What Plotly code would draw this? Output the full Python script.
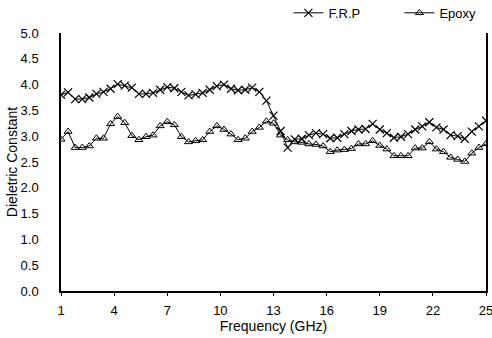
import plotly.graph_objects as go

freq = [round(1 + 0.4 * i, 1) for i in range(61)]

frp = [3.80, 3.85, 3.72, 3.72, 3.75, 3.82, 3.86, 3.92, 4.01, 3.98,
       3.94, 3.82, 3.82, 3.84, 3.90, 3.95, 3.93, 3.86, 3.79, 3.81,
       3.84, 3.90, 3.97, 4.00, 3.92, 3.89, 3.90, 3.94, 3.86, 3.69,
       3.40, 3.10, 2.78, 2.94, 2.95, 3.02, 3.06, 3.04, 2.96, 2.97,
       3.04, 3.10, 3.13, 3.14, 3.24, 3.13, 3.06, 2.97, 2.99, 3.04,
       3.13, 3.19, 3.27, 3.17, 3.13, 3.02, 3.00, 2.95, 3.09, 3.19,
       3.30]

epoxy = [2.94, 3.09, 2.78, 2.78, 2.81, 2.96, 2.96, 3.24, 3.38, 3.26,
         3.01, 2.93, 2.99, 3.02, 3.20, 3.28, 3.22, 2.99, 2.89, 2.91,
         2.93, 3.09, 3.20, 3.13, 3.04, 2.93, 2.96, 3.09, 3.17, 3.29,
         3.25, 3.02, 2.93, 2.89, 2.88, 2.85, 2.84, 2.81, 2.70, 2.73,
         2.74, 2.76, 2.85, 2.85, 2.91, 2.82, 2.75, 2.62, 2.62, 2.62,
         2.77, 2.77, 2.89, 2.75, 2.70, 2.59, 2.55, 2.51, 2.67, 2.78,
         2.85]

x_ticks = [1, 4, 7, 10, 13, 16, 19, 22, 25]
y_ticks = [0.0, 0.5, 1.0, 1.5, 2.0, 2.5, 3.0, 3.5, 4.0, 4.5, 5.0]

fig = go.Figure()
fig.add_trace(go.Scatter(
    x=freq, y=frp, name="F.R.P", mode="lines+markers",
    line=dict(color="black", width=1),
    marker=dict(symbol="x-thin-open", size=8, color="black",
                line=dict(color="black", width=1.2)),
))
fig.add_trace(go.Scatter(
    x=freq, y=epoxy, name="Epoxy", mode="lines+markers",
    line=dict(color="black", width=1),
    marker=dict(symbol="triangle-up-open", size=7, color="black",
                line=dict(color="black", width=1)),
))

font = dict(family="Liberation Sans, Arial, sans-serif", size=13, color="black")

fig.update_layout(
    width=492, height=338,
    margin=dict(l=61, r=6, t=33, b=47, autoexpand=False),
    paper_bgcolor="white", plot_bgcolor="white",
    font=font,
    showlegend=True,
    legend=dict(orientation="h", x=0.535, xanchor="left", y=1.078, yanchor="middle",
                font=dict(size=13, color="black"), bgcolor="rgba(0,0,0,0)",
                entrywidth=66, entrywidthmode="pixels", traceorder="normal"),
    xaxis=dict(
        range=[1, 25], tickmode="array", tickvals=x_ticks,
        ticktext=[str(v) for v in x_ticks],
        showgrid=False, zeroline=False, automargin=False,
        ticklabeloverflow="allow", ticklabelstandoff=4,
        showline=True, linecolor="black", linewidth=1.5,
        ticks="outside", ticklen=3, tickcolor="black",
        title=dict(text="Frequency (GHz)", font=dict(size=14), standoff=4),
    ),
    yaxis=dict(
        range=[0, 5], tickmode="array", tickvals=y_ticks,
        ticktext=[f"{v:.1f}" for v in y_ticks],
        showgrid=False, zeroline=False, automargin=False,
        showline=True, mirror=True, linecolor="black", linewidth=1.5,
        ticks="", ticklabelstandoff=18,
        title=dict(text="Dieletric Constant", font=dict(size=14), standoff=0),
    ),
)

fig.write_html("out.html", config={"displayModeBar": False},
               post_script="document.body.style.margin='0';")
